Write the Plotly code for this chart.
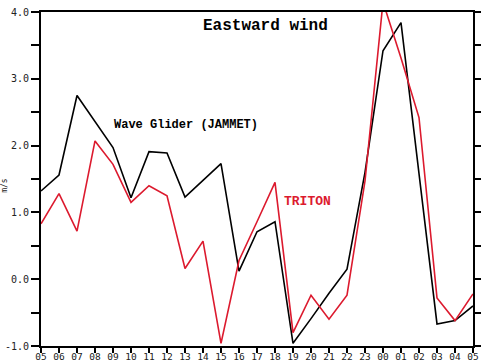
import plotly.graph_objects as go

# Hourly eastward wind component (m/s), 05h to 05h next day
hour_labels = ["05", "06", "07", "08", "09", "10", "11", "12", "13", "14", "15", "16",
               "17", "18", "19", "20", "21", "22", "23", "00", "01", "02", "03", "04", "05"]
hours = list(range(len(hour_labels)))

wave_glider = [1.32, 1.56, 2.75, 2.35, 1.97, 1.22, 1.91, 1.89, 1.23, 1.48, 1.73, 0.12,
               0.71, 0.86, -0.96, -0.59, -0.21, 0.15, 1.60, 3.42, 3.84, 1.58, -0.67, -0.62, -0.40]
triton = [0.83, 1.28, 0.72, 2.07, 1.72, 1.15, 1.40, 1.25, 0.16, 0.57, -0.96, 0.28,
          0.86, 1.45, -0.80, -0.24, -0.60, -0.24, 1.47, 4.15, 3.31, 2.42, -0.28, -0.62, -0.22]

y_tick_vals = [-1.0, -0.5, 0.0, 0.5, 1.0, 1.5, 2.0, 2.5, 3.0, 3.5, 4.0]
y_tick_text = ["-1.0", "", "0.0", "", "1.0", "", "2.0", "", "3.0", "", "4.0"]

RED = "#dc1a2e"
MONO = "Liberation Mono"
TICKFONT = "DejaVu Sans Mono"

fig = go.Figure()
fig.add_trace(go.Scatter(x=hours, y=wave_glider, mode="lines",
                         line=dict(color="black", width=1.6), name="Wave Glider (JAMMET)"))
fig.add_trace(go.Scatter(x=hours, y=triton, mode="lines",
                         line=dict(color=RED, width=1.6), name="TRITON"))

fig.update_layout(
    width=481, height=361,
    margin=dict(l=41, r=8, t=12, b=15),
    paper_bgcolor="white", plot_bgcolor="white",
    showlegend=False,
    xaxis=dict(range=[0, 24], tickvals=hours, ticktext=hour_labels,
               showgrid=False, zeroline=False, automargin=False,
               showline=True, linecolor="black", linewidth=2, mirror=True,
               ticks="outside", ticklen=5, tickwidth=1.5, tickcolor="black",
               ticklabelstandoff=-4,
               tickfont=dict(family=TICKFONT, size=9.5, color="#222")),
    yaxis=dict(range=[-1, 4], tickvals=y_tick_vals, ticktext=y_tick_text,
               showgrid=False, zeroline=False, automargin=False,
               showline=True, linecolor="black", linewidth=2, mirror="ticks",
               ticks="outside", ticklen=8, tickwidth=1.5, tickcolor="black",
               tickfont=dict(family=TICKFONT, size=10, color="#222")),
)

fig.add_annotation(text="<b>Eastward wind</b>", xref="paper", yref="paper",
                   x=0.52, y=0.958, showarrow=False, xanchor="center", yanchor="middle",
                   font=dict(family=MONO, size=16, color="black"))
fig.add_annotation(text="<b>Wave Glider (JAMMET)</b>", xref="paper", yref="paper",
                   x=0.3345, y=0.662, showarrow=False, xanchor="center", yanchor="middle",
                   font=dict(family=MONO, size=12, color="black"))
fig.add_annotation(text="<b>TRITON</b>", xref="paper", yref="paper",
                   x=0.618, y=0.432, showarrow=False, xanchor="center", yanchor="middle",
                   font=dict(family=MONO, size=13, color=RED))
fig.add_annotation(text="m/s", xref="paper", yref="paper",
                   x=-0.083, y=0.48, showarrow=False, xanchor="center", yanchor="middle",
                   textangle=-90, font=dict(family=TICKFONT, size=8, color="#222"))

fig.write_html("out.html")
